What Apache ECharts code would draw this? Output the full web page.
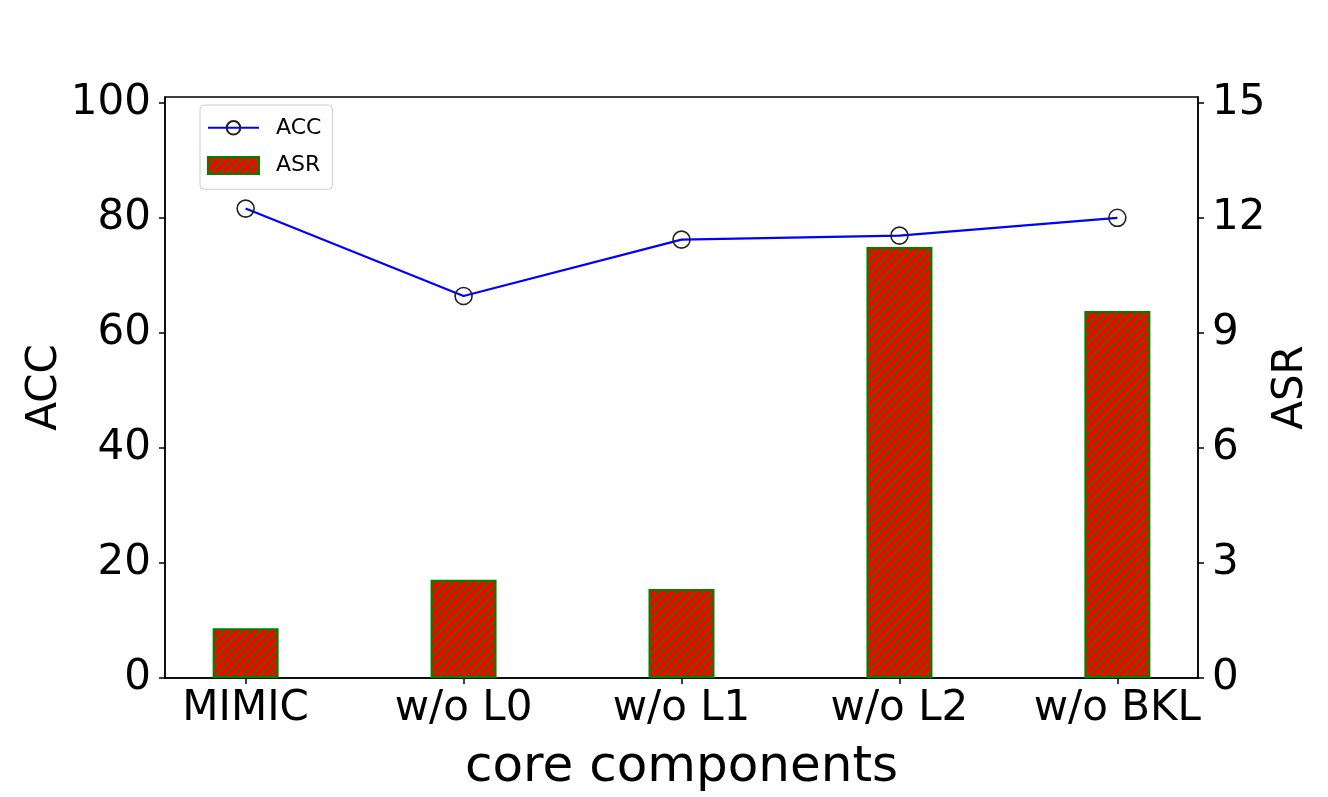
<!DOCTYPE html>
<html>
   <head>
      <script type = "text/javascript" src = "https://cdn.jsdelivr.net/npm/echarts@6.0.0/dist/echarts.min.js"></script>
      <title>ACC / ASR core components</title>
      <style>
         body {margin: 0; background: #fff;}
      </style>
   </head>
   <body>
      <div id = "chart" style = "width:1328px;height:797px"></div>
      <script type = "text/javascript">
         var categories = ["MIMIC", "w/o L0", "w/o L1", "w/o L2", "w/o BKL"];
         var acc_values = [81.6, 66.4, 76.2, 76.9, 80.0];
         var asr_values = [1.30, 2.56, 2.32, 11.24, 9.57];
         var acc_ticks = [0, 20, 40, 60, 80, 100];
         var asr_ticks = [0, 3, 6, 9, 12, 15];
         var x_ticks = [0, 1, 2, 3, 4];

         // red fill with green /// hatch
         function make_hatch(){
            var s = 9;
            var c = document.createElement("canvas");
            c.width = s; c.height = s;
            var ctx = c.getContext("2d");
            ctx.fillStyle = "#ff0000";
            ctx.fillRect(0, 0, s, s);
            ctx.strokeStyle = "#1a7a00";
            ctx.lineWidth = 1.6;
            ctx.beginPath();
            ctx.moveTo(0, s); ctx.lineTo(s, 0);
            ctx.moveTo(-1, 1); ctx.lineTo(1, -1);
            ctx.moveTo(s - 1, s + 1); ctx.lineTo(s + 1, s - 1);
            ctx.stroke();
            return c;
         }

         var acc_data = [], asr_data = [];
         for (var i = 0; i < categories.length; ++i){
            acc_data.push([i, acc_values[i]]);
            asr_data.push([i, asr_values[i]]);
         }

         var font = "DejaVu Sans";
         var myChart = echarts.init(document.getElementById("chart"));
         var option = {
            animation: false,
            textStyle: {fontFamily: font},
            grid: {
               left: 165, right: 130, top: 97, bottom: 119,
               outerBoundsMode: "none",
               containLabel: false,
               show: true, borderColor: "#000", borderWidth: 1.5,
               backgroundColor: "transparent"
            },
            legend: {
               left: 200, top: 105,
               orient: "vertical",
               itemWidth: 51, itemHeight: 17, itemGap: -6,
               padding: [1, 11, 2, 7],
               borderColor: "#cccccc", borderWidth: 1, borderRadius: 4,
               textStyle: {fontSize: 22, lineHeight: 22, color: "#000", fontFamily: font, padding: [0, 0, 0, 12]},
               data: [{name: "ACC"}, {name: "ASR", icon: "rect"}]
            },
            xAxis: {
               type: "value",
               min: -0.37, max: 4.37,
               name: "core components",
               nameLocation: "middle",
               nameGap: 40,
               nameMoveOverlap: false,
               nameTextStyle: {fontSize: 50, color: "#000", fontFamily: font},
               splitLine: {show: false},
               axisLine: {show: true, onZero: false, lineStyle: {color: "#000", width: 1.5}},
               axisTick: {show: true, inside: false, length: 6, customValues: x_ticks, lineStyle: {color: "#000", width: 1.5}},
               axisLabel: {
                  fontSize: 42, lineHeight: 42, color: "#000", margin: 10, fontFamily: font,
                  customValues: x_ticks,
                  formatter: function(v){ return categories[Math.round(v)] || ""; }
               }
            },
            yAxis: [
               {
                  type: "value",
                  min: 0, max: 101, interval: 20,
                  name: "ACC",
                  nameLocation: "middle",
                  nameGap: 78,
                  nameMoveOverlap: false,
                  nameTextStyle: {fontSize: 42, color: "#000", fontFamily: font},
                  splitLine: {show: false},
                  axisLine: {show: true, onZero: false, lineStyle: {color: "#000", width: 1.5}},
                  axisTick: {show: true, inside: false, length: 6, lineStyle: {color: "#000", width: 1.5}},
                  axisLabel: {
                     fontSize: 42, color: "#000", margin: 14, fontFamily: font,
                     showMaxLabel: false,
                     formatter: function(v){ return acc_ticks.indexOf(v) >= 0 ? String(v) : ""; }
                  }
               },
               {
                  type: "value",
                  min: 0, max: 15.15, interval: 3,
                  name: "ASR",
                  nameLocation: "middle",
                  nameGap: 51,
                  nameRotate: 90,
                  nameMoveOverlap: false,
                  nameTextStyle: {fontSize: 42, color: "#000", fontFamily: font},
                  splitLine: {show: false},
                  axisLine: {show: true, onZero: false, lineStyle: {color: "#000", width: 1.5}},
                  axisTick: {show: true, inside: false, length: 6, lineStyle: {color: "#000", width: 1.5}},
                  axisLabel: {
                     fontSize: 42, color: "#000", margin: 14, fontFamily: font,
                     showMaxLabel: false,
                     formatter: function(v){ return asr_ticks.indexOf(v) >= 0 ? String(v) : ""; }
                  }
               }
            ],
            series: [
               {
                  name: "ACC",
                  type: "line",
                  yAxisIndex: 0,
                  z: 5,
                  symbol: "circle",
                  symbolSize: 17,
                  data: acc_data,
                  lineStyle: {color: "#0000ff", width: 2.2},
                  itemStyle: {color: "rgba(0,0,0,0)", borderColor: "#222", borderWidth: 1.6}
               },
               {
                  name: "ASR",
                  type: "bar",
                  yAxisIndex: 1,
                  z: 2,
                  barWidth: 66,
                  data: asr_data,
                  itemStyle: {
                     color: {image: make_hatch(), repeat: "repeat"},
                     borderColor: "#008000",
                     borderWidth: 2
                  }
               }
            ]
         };
         myChart.setOption(option);
      </script>
   </body>
</html>
